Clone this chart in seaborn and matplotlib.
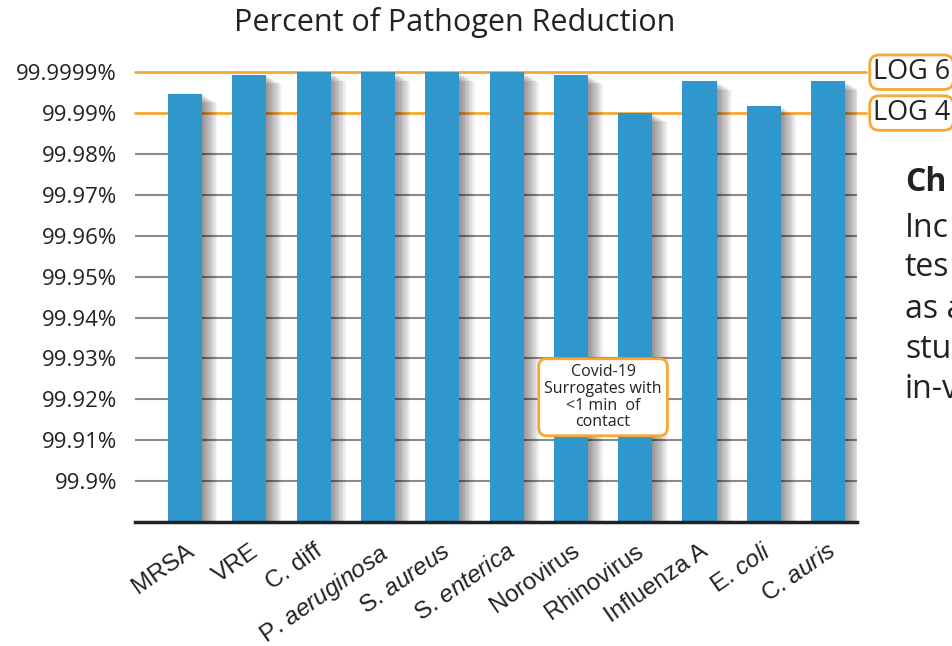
import matplotlib
matplotlib.use("Agg")
import matplotlib.pyplot as plt
import matplotlib.patheffects as pe
import seaborn as sns
import pandas as pd

categories = ["MRSA", "VRE", "C. diff", r"P. $\it{aeruginosa}$", r"S. $\it{aureus}$",
              r"S. $\it{enterica}$", "Norovirus", "Rhinovirus", "Influenza A",
              r"E. $\it{coli}$", r"C. $\it{auris}$"]
reduction = [99.9947, 99.9993, 100.0, 100.0, 100.0, 100.0, 99.9993, 99.9900,
             99.9978, 99.9917, 99.9978]
tick_values = [99.90, 99.91, 99.92, 99.93, 99.94, 99.95, 99.96, 99.97, 99.98, 99.99, 100.0]
tick_labels = ["99.9%", "99.91%", "99.92%", "99.93%", "99.94%", "99.95%", "99.96%",
               "99.97%", "99.98%", "99.99%", "99.9999%"]
log_levels = [100.0, 99.99]
log_labels = ["LOG 6", "LOG 4"]
side_lines = ["Ch", "Inc", "tes", "as a", "stu", "in-v"]

sns.set_theme(style="white")
plt.rcParams["font.family"] = ["Open Sans", "DejaVu Sans"]
plt.rcParams["mathtext.fontset"] = "custom"
plt.rcParams["mathtext.it"] = "Liberation Sans:italic"
plt.rcParams["mathtext.rm"] = "Liberation Sans"

BLUE = "#2f97cc"
ORANGE = "#f7a834"
TXT = "#222222"

fig = plt.figure(figsize=(9.53, 6.46), dpi=100)
ax = fig.add_axes([135/953, 1-522/646, (857-135)/953, (522-64)/646])

df = pd.DataFrame({"cat": categories, "val": reduction})

# gray gridlines
for v in tick_values:
    if v not in log_levels:
        ax.axhline(v, color="#8a8a8a", lw=1.5, zorder=0)

sns.barplot(data=df, x="cat", y="val", color=BLUE, width=0.53, saturation=1,
            linewidth=0, ax=ax, zorder=3)

shadow = [pe.SimplePatchShadow(offset=(k, -0.6 * k), shadow_rgbFace="black", alpha=0.045)
          for k in (11, 10, 9, 8, 7, 6, 5, 4, 3, 2, 1)]
for p in ax.patches:
    p.set_path_effects(shadow + [pe.Normal()])

for v in log_levels:
    ax.axhline(v, xmin=0, xmax=1.012, color=ORANGE, lw=2, zorder=2, clip_on=False)

ax.set_ylim(99.89, 100.002)
ax.set_xlim(-0.78, 10.45)
ax.set_yticks(tick_values)
ax.set_yticklabels(tick_labels, fontsize=16, color=TXT)
ax.tick_params(axis="y", length=0, pad=13)
ax.tick_params(axis="x", length=0, pad=13)
ax.set_xticks(range(len(categories)))
ax.set_xticklabels(categories, rotation=35, ha="right", rotation_mode="anchor",
                   fontsize=17.5, family="Liberation Sans", color=TXT)
ax.set_xlabel("")
ax.set_ylabel("")
for s in ["top", "right", "left"]:
    ax.spines[s].set_visible(False)
ax.spines["bottom"].set_color(TXT)
ax.spines["bottom"].set_linewidth(2.5)
ax.spines["bottom"].set_zorder(5)

fig.text(455/953, 1-22/646, "Percent of Pathogen Reduction", ha="center", va="center",
         fontsize=22, color=TXT)

# Covid box
ax.text(6.5, 99.9205, "Covid-19\nSurrogates with\n<1 min  of\ncontact", ha="center",
        va="center", fontsize=11.5, color=TXT, linespacing=1.05, zorder=6,
        bbox=dict(boxstyle="round,pad=0.35,rounding_size=0.5", fc="white",
                  ec=ORANGE, lw=2))

# LOG labels
for v, lab in zip(log_levels, log_labels):
    y = ax.transData.transform((0, v))[1] / fig.bbox.height
    fig.text(873/953, y, lab, ha="left", va="center", fontsize=19.5, color=TXT,
             bbox=dict(boxstyle="round,pad=0.12,rounding_size=0.35", fc="white",
                       ec=ORANGE, lw=2))

# side text (cut by figure edge in the reference)
ys = [183, 228, 268, 310, 350, 390]
for i, (t, yy) in enumerate(zip(side_lines, ys)):
    fig.text(905/953, 1-yy/646, t, ha="left", va="center", fontsize=23,
             fontweight="bold" if i == 0 else "normal", color=TXT)

fig.savefig("out.png", dpi=100)
